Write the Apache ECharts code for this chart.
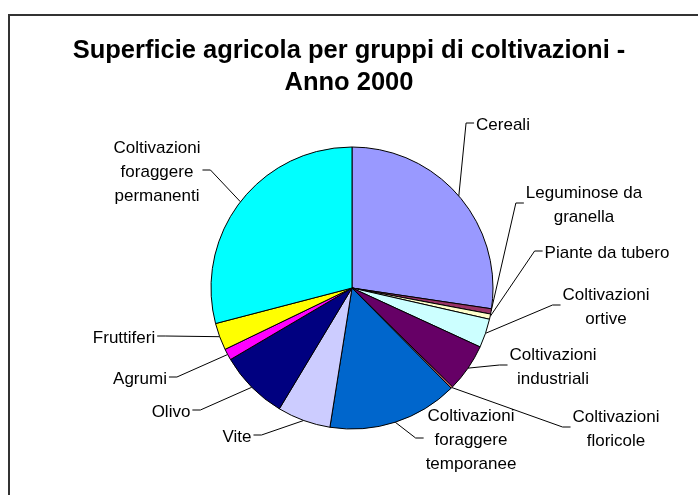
<!DOCTYPE html>
<html lang="it">
<head>
    <meta charset="UTF-8">
    <title>Superficie agricola per gruppi di coltivazioni - Anno 2000</title>
    <script src="https://cdn.jsdelivr.net/npm/echarts@6/dist/echarts.min.js"></script>
    <style>
        html, body{
            margin: 0;
            padding: 0;
            background: #fff;
        }
        #box{
            width: 698px;
            height: 495px;
        }
    </style>
</head>
<body>
<div id="box"></div>
<script>
    // gruppi di coltivazioni (in senso orario da ore 12)
    var categorie = [
        'Cereali',
        'Leguminose da\ngranella',
        'Piante da tubero',
        'Coltivazioni\nortive',
        'Coltivazioni\nindustriali',
        'Coltivazioni\nfloricole',
        'Coltivazioni\nforaggere\ntemporanee',
        'Vite',
        'Olivo',
        'Agrumi',
        'Fruttiferi',
        'Coltivazioni\nforaggere\npermanenti'
    ];
    // quote percentuali
    var quote = [27.3, 0.6, 0.6, 3.3, 5.5, 0.2, 14.9, 6.1, 7.9, 1.3, 3.1, 29.0];
    var colori = ['#9999FF', '#993366', '#FFFFCC', '#CCFFFF', '#660066', '#FF8080',
                  '#0066CC', '#CCCCFF', '#000080', '#FF00FF', '#FFFF00', '#00FFFF'];

    // centro delle etichette
    var posEtichette = [
        [503, 125], [584, 205], [607, 253], [606, 307], [553, 367], [616, 429],
        [471, 440], [237, 437], [171, 412], [140, 379], [124, 338], [157, 172]
    ];

    var FONT_ETICHETTE = '17px "Liberation Sans"';

    // larghezza del blocco di testo (riga piu lunga)
    var ctx = document.createElement('canvas').getContext('2d');
    ctx.font = FONT_ETICHETTE;
    function larghezza(testo) {
        var righe = testo.split('\n');
        var w = 0;
        for (var k = 0; k < righe.length; k++) {
            w = Math.max(w, ctx.measureText(righe[k]).width);
        }
        return w;
    }

    var dati = [];
    for (var i = 0; i < categorie.length; i++) {
        dati.push({name: categorie[i], value: quote[i], itemStyle: {color: colori[i]}});
    }

    var myChart = echarts.init(document.getElementById('box'));
    var option = {
        animation: false,
        title: {
            text: 'Superficie agricola per gruppi di coltivazioni -\nAnno 2000',
            left: 'center',
            top: 30,
            textStyle: {
                fontFamily: 'Liberation Sans',
                fontWeight: 'bold',
                fontSize: 25.5,
                lineHeight: 32,
                color: '#000'
            }
        },
        graphic: [{
            type: 'rect',
            shape: {x: 9, y: 15, width: 720, height: 520},
            style: {fill: 'none', stroke: '#333', lineWidth: 2},
            z: -1
        }],
        series: [{
            type: 'pie',
            center: [352, 288],
            radius: 141,
            startAngle: 90,
            clockwise: true,
            avoidLabelOverlap: false,
            data: dati,
            itemStyle: {
                borderColor: '#000',
                borderWidth: 1
            },
            label: {
                show: true,
                position: 'outside',
                formatter: '{b}',
                fontFamily: 'Liberation Sans',
                fontSize: 17,
                lineHeight: 24,
                color: '#000',
                align: 'center'
            },
            labelLine: {
                show: true,
                lineStyle: {color: '#000', width: 1}
            },
            labelLayout: function (p) {
                var pos = posEtichette[p.dataIndex];
                var w = larghezza(categorie[p.dataIndex]);
                var a = p.labelLinePoints[0];
                var destra = pos[0] > a[0];
                var ex = destra ? pos[0] - w / 2 - 2 : pos[0] + w / 2 + 2;
                var mx = destra ? ex - 8 : ex + 8;
                return {
                    x: pos[0],
                    y: pos[1],
                    align: 'center',
                    verticalAlign: 'middle',
                    labelLinePoints: [a, [mx, pos[1] - 2], [ex, pos[1] - 2]]
                };
            },
            emphasis: {disabled: true}
        }]
    };
    myChart.setOption(option);
</script>
</body>
</html>
